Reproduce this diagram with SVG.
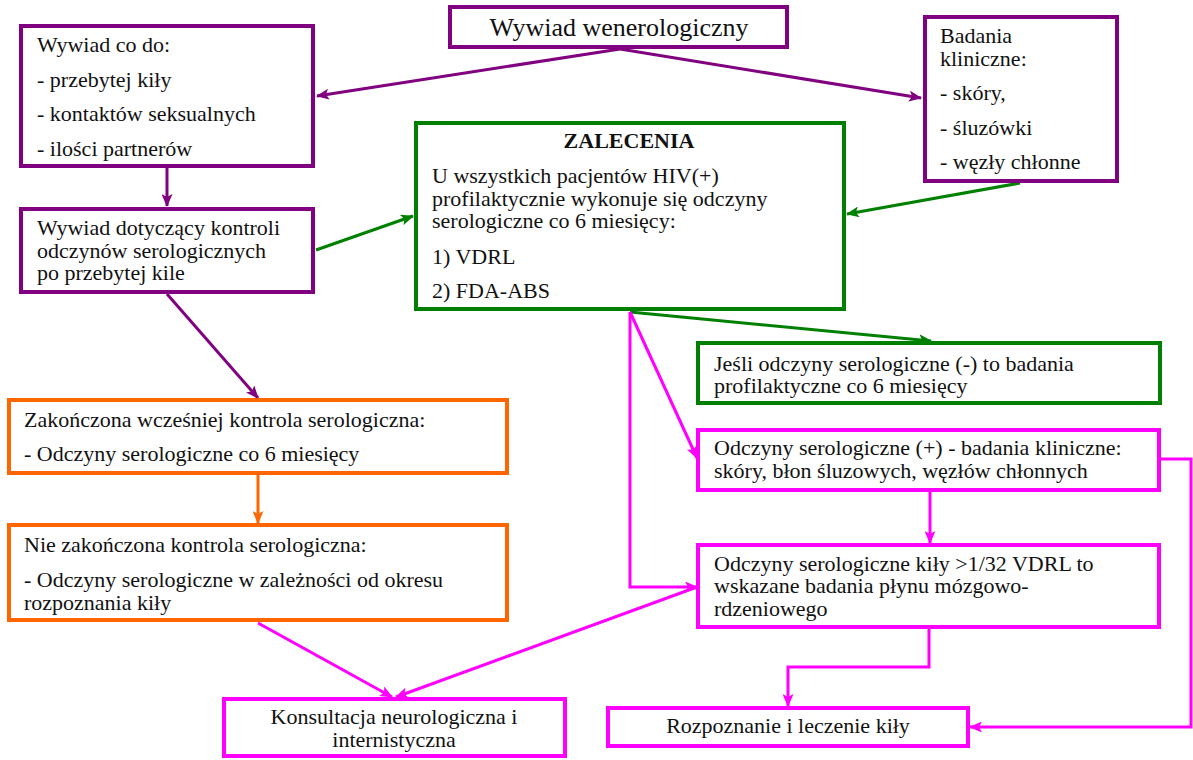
<svg xmlns="http://www.w3.org/2000/svg" width="1193" height="760" viewBox="0 0 1193 760">
<style>
.t{font-family:"Liberation Serif","Times New Roman",serif;font-size:22px;fill:#111}
.c{text-anchor:middle}
.b{font-weight:bold}
.pb{fill:#fff;stroke:#800080;stroke-width:4}
.gb{fill:#fff;stroke:#008000;stroke-width:4}
.ob{fill:#fff;stroke:#FF6600;stroke-width:4}
.mb{fill:#fff;stroke:#FF00FF;stroke-width:4}
.pl{fill:none;stroke:#800080;stroke-width:3}
.gl{fill:none;stroke:#008000;stroke-width:3}
.ol{fill:none;stroke:#FF6600;stroke-width:3}
.ml{fill:none;stroke:#FF00FF;stroke-width:3}
</style>
<defs>
<marker id="ap" markerUnits="userSpaceOnUse" markerWidth="13" markerHeight="11" refX="12" refY="5.5" orient="auto"><path d="M0,0 L13,5.5 L0,11 L3,5.5 z" fill="#800080"/></marker>
<marker id="ag" markerUnits="userSpaceOnUse" markerWidth="13" markerHeight="11" refX="12" refY="5.5" orient="auto"><path d="M0,0 L13,5.5 L0,11 L3,5.5 z" fill="#008000"/></marker>
<marker id="ao" markerUnits="userSpaceOnUse" markerWidth="13" markerHeight="11" refX="12" refY="5.5" orient="auto"><path d="M0,0 L13,5.5 L0,11 L3,5.5 z" fill="#FF6600"/></marker>
<marker id="am" markerUnits="userSpaceOnUse" markerWidth="13" markerHeight="11" refX="12" refY="5.5" orient="auto"><path d="M0,0 L13,5.5 L0,11 L3,5.5 z" fill="#FF00FF"/></marker>
</defs>
<rect width="1193" height="760" fill="#fff"/>
<g id="connectors">
<path class="pl" d="M620 49 L317 96" marker-end="url(#ap)"/>
<path class="pl" d="M620 49 L921 98" marker-end="url(#ap)"/>
<path class="pl" d="M167 168 L167 206" marker-end="url(#ap)"/>
<path class="gl" d="M316 250 L413 216" marker-end="url(#ag)"/>
<path class="gl" d="M1020 183 L847 214" marker-end="url(#ag)"/>
<path class="pl" d="M167 294 L258 398" marker-end="url(#ap)"/>
<path class="ol" d="M258 475 L258 523" marker-end="url(#ao)"/>
<path class="gl" d="M630 312 L931 341" marker-end="url(#ag)"/>
<path class="ml" d="M630 312 L697 458" marker-end="url(#am)"/>
<path class="ml" d="M630 312 L630 587 L697 587" marker-end="url(#am)"/>
<path class="ml" d="M930 492 L930 543" marker-end="url(#am)"/>
<path class="ml" d="M1160 459 L1191 459 L1191 727 L970 727" marker-end="url(#am)"/>
<path class="ml" d="M929 629 L929 667 L788 667 L788 706" marker-end="url(#am)"/>
<path class="ml" d="M258 623 L392 697" marker-end="url(#am)"/>
<path class="ml" d="M697 587 L396 697" marker-end="url(#am)"/>
</g>
<g id="n-wywiad">
<rect class="pb" x="450" y="7" width="337" height="40"/>
<text class="t c" x="619" y="36" style="font-size:26px">Wywiad wenerologiczny</text>
</g>
<g id="n-codo">
<rect class="pb" x="21" y="26" width="292" height="140"/>
<text class="t" x="37" y="52">Wywiad co do:</text>
<text class="t" x="37" y="87">- przebytej kiły</text>
<text class="t" x="37" y="121">- kontaktów seksualnych</text>
<text class="t" x="37" y="156">- ilości partnerów</text>
</g>
<g id="n-kontrola">
<rect class="pb" x="21" y="209" width="292" height="83"/>
<text class="t" x="37" y="235">Wywiad dotyczący kontroli</text>
<text class="t" x="37" y="258">odczynów serologicznych</text>
<text class="t" x="37" y="280">po przebytej kile</text>
</g>
<g id="n-badania">
<rect class="pb" x="925" y="17" width="192" height="164"/>
<text class="t" x="940" y="43">Badania</text>
<text class="t" x="940" y="66">kliniczne:</text>
<text class="t" x="940" y="100">- skóry,</text>
<text class="t" x="940" y="135">- śluzówki</text>
<text class="t" x="940" y="169">- węzły chłonne</text>
</g>
<g id="n-zalecenia">
<rect class="gb" x="416" y="123" width="428" height="186"/>
<text class="t c b" x="629" y="148">ZALECENIA</text>
<text class="t" x="432" y="183">U wszystkich pacjentów HIV(+)</text>
<text class="t" x="432" y="206">profilaktycznie wykonuje się odczyny</text>
<text class="t" x="432" y="228">serologiczne co 6 miesięcy:</text>
<text class="t" x="432" y="264">1) VDRL</text>
<text class="t" x="432" y="298">2) FDA-ABS</text>
</g>
<g id="n-jesli">
<rect class="gb" x="698" y="343" width="462" height="60"/>
<text class="t" x="714" y="371">Jeśli odczyny serologiczne (-) to badania</text>
<text class="t" x="714" y="393">profilaktyczne co 6 miesięcy</text>
</g>
<g id="n-plus">
<rect class="mb" x="698" y="430" width="461" height="60"/>
<text class="t" x="714" y="455">Odczyny serologiczne (+) - badania kliniczne:</text>
<text class="t" x="714" y="478">skóry, błon śluzowych, węzłów chłonnych</text>
</g>
<g id="n-vdrl">
<rect class="mb" x="698" y="545" width="461" height="82"/>
<text class="t" x="714" y="571">Odczyny serologiczne kiły &gt;1/32 VDRL to</text>
<text class="t" x="714" y="593">wskazane badania płynu mózgowo-</text>
<text class="t" x="714" y="616">rdzeniowego</text>
</g>
<g id="n-rozpoznanie">
<rect class="mb" x="608" y="708" width="360" height="38"/>
<text class="t c" x="788" y="733">Rozpoznanie i leczenie kiły</text>
</g>
<g id="n-konsultacja">
<rect class="mb" x="224" y="699" width="341" height="57"/>
<text class="t c" x="394" y="724">Konsultacja neurologiczna i</text>
<text class="t c" x="394" y="747">internistyczna</text>
</g>
<g id="n-zakonczona">
<rect class="ob" x="9" y="400" width="498" height="73"/>
<text class="t" x="24" y="427">Zakończona wcześniej kontrola serologiczna:</text>
<text class="t" x="24" y="461">- Odczyny serologiczne co 6 miesięcy</text>
</g>
<g id="n-niezakonczona">
<rect class="ob" x="9" y="525" width="498" height="95"/>
<text class="t" x="24" y="552">Nie zakończona kontrola serologiczna:</text>
<text class="t" x="24" y="587">- Odczyny serologiczne w zależności od okresu</text>
<text class="t" x="24" y="610">rozpoznania kiły</text>
</g>
</svg>
